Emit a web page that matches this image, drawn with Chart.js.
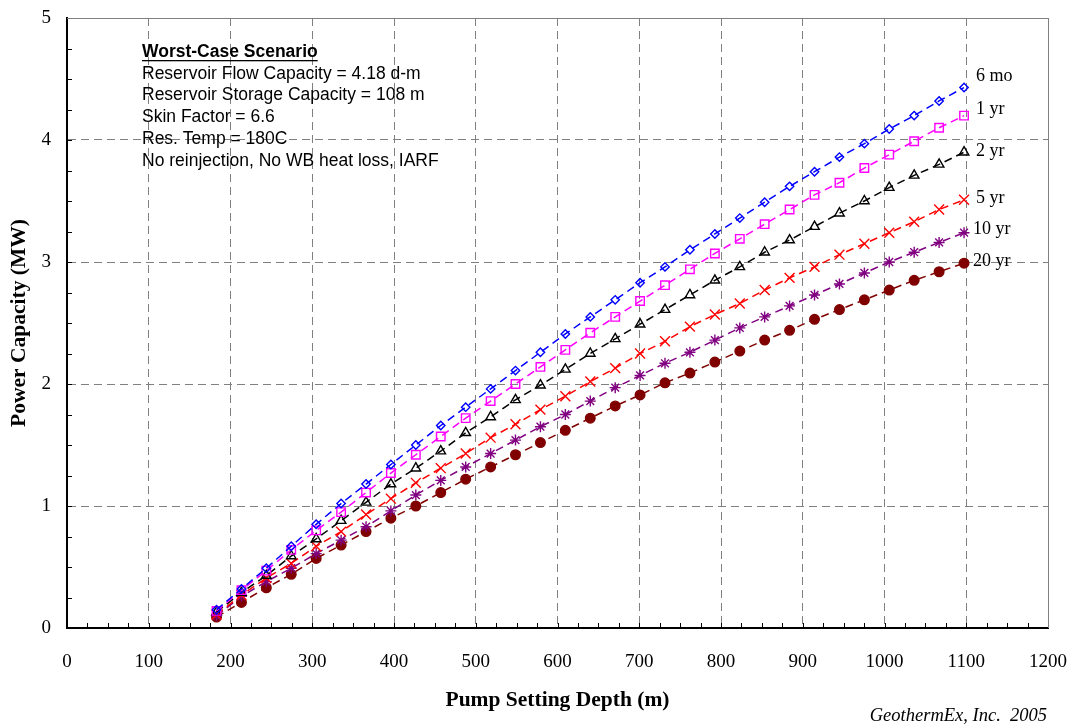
<!DOCTYPE html>
<html>
<head>
<meta charset="utf-8">
<script src="https://cdn.jsdelivr.net/npm/chart.js@4.4.1/dist/chart.umd.min.js"></script>
<style>
  html, body { margin: 0; padding: 0; background: #ffffff; }
  #wrap { width: 1074px; height: 728px; position: relative; }
</style>
</head>
<body>
<div id="wrap"><canvas id="chart" width="1074" height="728"></canvas></div>
<script>
// Pump setting depths (m), 100 ft steps from 600 ft to 3600 ft
const depths = [182.9, 213.4, 243.8, 274.3, 304.8, 335.3, 365.8, 396.2, 426.7, 457.2,
                487.7, 518.2, 548.6, 579.1, 609.6, 640.1, 670.6, 701.0, 731.5, 762.0,
                792.5, 823.0, 853.4, 883.9, 914.4, 944.9, 975.4, 1005.8, 1036.3, 1066.8, 1097.3];

// Power capacity (MW) for each production period
const mw6mo = [0.15, 0.32, 0.49, 0.67, 0.85, 1.02, 1.18, 1.34, 1.50, 1.66,
               1.81, 1.96, 2.11, 2.26, 2.41, 2.55, 2.69, 2.83, 2.96, 3.10,
               3.23, 3.36, 3.49, 3.62, 3.74, 3.86, 3.97, 4.09, 4.20, 4.32, 4.43];
const mw1yr = [0.14, 0.31, 0.47, 0.64, 0.80, 0.95, 1.11, 1.27, 1.42, 1.57,
               1.72, 1.86, 2.00, 2.14, 2.28, 2.42, 2.55, 2.68, 2.81, 2.94,
               3.07, 3.19, 3.31, 3.43, 3.55, 3.65, 3.77, 3.88, 3.99, 4.10, 4.20];
const mw2yr = [0.13, 0.29, 0.43, 0.59, 0.73, 0.88, 1.03, 1.18, 1.31, 1.45,
               1.60, 1.73, 1.87, 1.99, 2.12, 2.25, 2.37, 2.49, 2.61, 2.73,
               2.85, 2.96, 3.08, 3.18, 3.29, 3.40, 3.50, 3.61, 3.71, 3.80, 3.90];
const mw5yr = [0.11, 0.27, 0.41, 0.53, 0.67, 0.79, 0.93, 1.06, 1.19, 1.31,
               1.43, 1.56, 1.67, 1.79, 1.90, 2.02, 2.13, 2.25, 2.35, 2.47,
               2.57, 2.66, 2.77, 2.87, 2.96, 3.06, 3.15, 3.24, 3.33, 3.43, 3.51];
const mw10yr = [0.10, 0.26, 0.38, 0.49, 0.61, 0.72, 0.83, 0.96, 1.09, 1.21,
                1.32, 1.43, 1.54, 1.65, 1.75, 1.86, 1.97, 2.07, 2.17, 2.26,
                2.36, 2.46, 2.55, 2.64, 2.73, 2.82, 2.91, 3.00, 3.08, 3.16, 3.24];
const mw20yr = [0.09, 0.21, 0.33, 0.44, 0.57, 0.68, 0.79, 0.90, 1.00, 1.11,
                1.22, 1.32, 1.42, 1.52, 1.62, 1.72, 1.82, 1.91, 2.01, 2.09,
                2.18, 2.27, 2.36, 2.44, 2.53, 2.61, 2.69, 2.77, 2.85, 2.92, 2.99];

const seriesNames = ['6 mo', '1 yr', '2 yr', '5 yr', '10 yr', '20 yr'];
const seriesValues = [mw6mo, mw1yr, mw2yr, mw5yr, mw10yr, mw20yr];

const notesTitle = 'Worst-Case Scenario';
const notesLines = [
  'Reservoir Flow Capacity = 4.18 d-m',
  'Reservoir Storage Capacity = 108 m',
  'Skin Factor = 6.6',
  'Res. Temp = 180C',
  'No reinjection, No WB heat loss, IARF'
];
const creditText = 'GeothermEx, Inc.  2005';

const SERIF = '"Liberation Serif", "Times New Roman", serif';
const SANS = '"Liberation Sans", Arial, sans-serif';

const styles = [
  { color: '#0000FF', point: 'rectRot',  radius: 4.2, fill: 'rgba(0,0,0,0)' },
  { color: '#FF00FF', point: 'rect',     radius: 6,   fill: 'rgba(0,0,0,0)' },
  { color: '#000000', point: 'triangle', radius: 5.5, fill: 'rgba(0,0,0,0)' },
  { color: '#FF0000', point: 'crossRot', radius: 7,   fill: 'rgba(0,0,0,0)' },
  { color: '#800080', point: 'star',     radius: 5.5, fill: 'rgba(0,0,0,0)' },
  { color: '#800000', point: 'circle',   radius: 4.8, fill: '#800000' }
];

const datasets = seriesNames.map((name, k) => ({
  label: name,
  data: depths.map((d, i) => ({ x: d, y: seriesValues[k][i] })),
  showLine: true,
  borderColor: styles[k].color,
  borderWidth: 1.5,
  borderDash: [8, 5],
  pointStyle: styles[k].point,
  pointRadius: styles[k].radius,
  pointBorderColor: styles[k].color,
  pointBackgroundColor: styles[k].fill,
  pointBorderWidth: 1.4,
  tension: 0
}));

// Offsets of the series names from each line's last point (px)
const nameOffsets = [
  { dx: 12, dy: -11 }, { dx: 12, dy: -6 }, { dx: 12, dy: -1 },
  { dx: 12, dy: -2 },  { dx: 9,  dy: -3 }, { dx: 9,  dy: -2 }
];

const decorations = {
  id: 'decorations',
  afterDraw(chart) {
    const { ctx, chartArea: a, scales: { x, y } } = chart;
    ctx.save();

    // top and right frame
    ctx.strokeStyle = '#808080';
    ctx.lineWidth = 1;
    ctx.setLineDash([]);
    ctx.beginPath();
    ctx.moveTo(a.left, a.top + 0.5);
    ctx.lineTo(a.right + 0.5, a.top + 0.5);
    ctx.lineTo(a.right + 0.5, a.bottom);
    ctx.stroke();

    // inward tick marks
    ctx.strokeStyle = '#000000';
    ctx.beginPath();
    for (let v = 25; v < 1200; v += 25) {
      const px = Math.round(x.getPixelForValue(v)) + 0.5;
      ctx.moveTo(px, a.bottom);
      ctx.lineTo(px, a.bottom - 5);
    }
    for (let v = 0.25; v < 5; v += 0.25) {
      const py = Math.round(y.getPixelForValue(v)) + 0.5;
      ctx.moveTo(a.left, py);
      ctx.lineTo(a.left + 5, py);
    }
    ctx.stroke();

    // series names at the line ends
    ctx.fillStyle = '#000000';
    ctx.font = '18px ' + SERIF;
    ctx.textAlign = 'left';
    ctx.textBaseline = 'middle';
    seriesNames.forEach((name, k) => {
      const vals = seriesValues[k];
      const lx = x.getPixelForValue(depths[depths.length - 1]) + nameOffsets[k].dx;
      const ly = y.getPixelForValue(vals[vals.length - 1]) + nameOffsets[k].dy;
      ctx.fillText(name, lx, ly);
    });

    // scenario notes
    const nx = 142, ny = 52, lh = 21.8;
    ctx.font = 'bold 17.5px ' + SANS;
    ctx.fillText(notesTitle, nx, ny);
    const tw = ctx.measureText(notesTitle).width;
    ctx.fillRect(nx, ny + 8, tw, 1.3);
    ctx.font = '17.5px ' + SANS;
    notesLines.forEach((t, i) => ctx.fillText(t, nx, ny + lh * (i + 1)));

    // credit line
    ctx.font = 'italic 18.5px ' + SERIF;
    ctx.textAlign = 'right';
    ctx.fillText(creditText, 1047, 716);

    ctx.restore();
  }
};

const plainNumber = v => String(v);

new Chart(document.getElementById('chart'), {
  type: 'scatter',
  data: { datasets },
  options: {
    responsive: false,
    animation: false,
    devicePixelRatio: 1,
    layout: { padding: { left: 0, top: 18, right: 26, bottom: 0 } },
    plugins: { legend: { display: false }, tooltip: { enabled: false } },
    scales: {
      x: {
        type: 'linear',
        min: 0, max: 1200,
        afterFit: s => { s.height = 100; s.paddingLeft = 0; s.paddingRight = 0; },
        ticks: { stepSize: 100, color: '#000000', padding: 23, maxRotation: 0,
                 callback: plainNumber, font: { family: SERIF, size: 19 } },
        grid: { color: '#808080', lineWidth: 1, drawTicks: false },
        border: { display: true, color: '#000000', width: 2, dash: [8, 5] },
        title: { display: true, text: 'Pump Setting Depth (m)', color: '#000000',
                 font: { family: SERIF, size: 21.5, weight: 'bold' },
                 padding: { top: 0, bottom: 15 } }
      },
      y: {
        type: 'linear',
        min: 0, max: 5,
        afterFit: s => { s.width = 67; s.paddingTop = 0; s.paddingBottom = 0; },
        ticks: { stepSize: 1, color: '#000000', padding: 16,
                 callback: plainNumber, font: { family: SERIF, size: 19 } },
        grid: { color: '#808080', lineWidth: 1, drawTicks: false },
        border: { display: true, color: '#000000', width: 2, dash: [8, 5] },
        title: { display: true, text: 'Power Capacity (MW)', color: '#000000',
                 font: { family: SERIF, size: 21.5, weight: 'bold' },
                 padding: { top: 7, bottom: 0 } }
      }
    }
  },
  plugins: [decorations]
});
</script>
</body>
</html>
